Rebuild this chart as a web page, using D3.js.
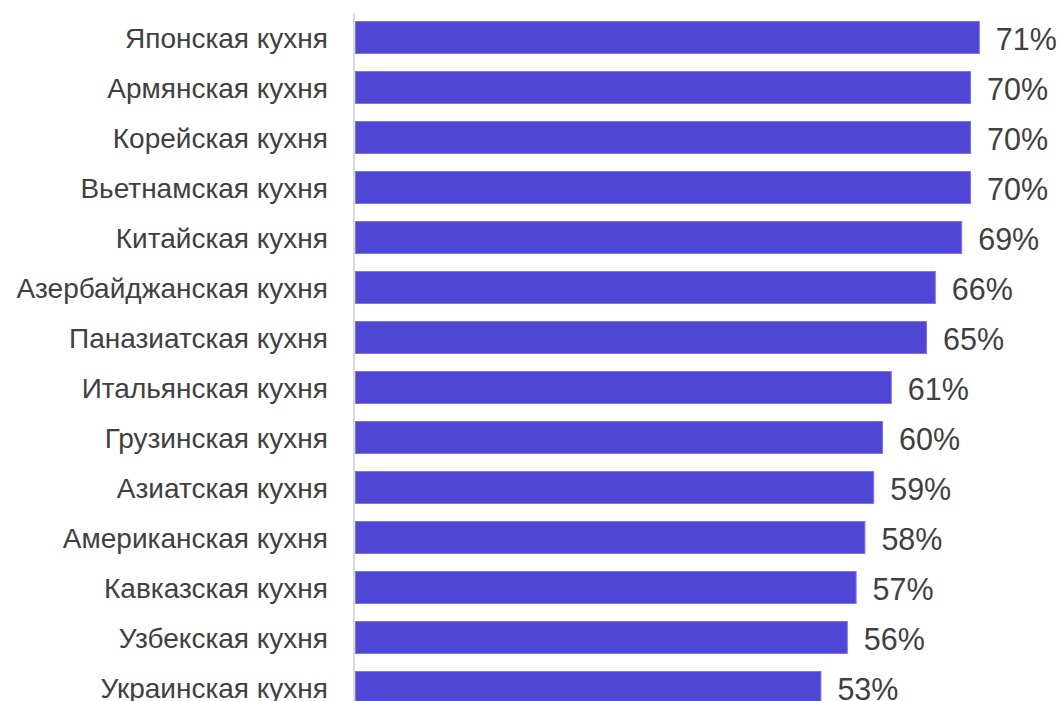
<!DOCTYPE html>
<html><head><meta charset="utf-8">
<script src="https://cdn.jsdelivr.net/npm/d3@7"></script>
<style>html,body{margin:0;padding:0;background:#fff;overflow:hidden}</style>
</head><body>
<svg id="c" width="1063" height="701"></svg>
<script>
const categories = ["Японская кухня","Армянская кухня","Корейская кухня","Вьетнамская кухня","Китайская кухня","Азербайджанская кухня","Паназиатская кухня","Итальянская кухня","Грузинская кухня","Азиатская кухня","Американская кухня","Кавказская кухня","Узбекская кухня","Украинская кухня"];
const values = [71,70,70,70,69,66,65,61,60,59,58,57,56,53];
const valueLabels = values.map(v => v + "%");

const svg = d3.select("#c");
const x = d3.scaleLinear().domain([0, 80]).range([355, 355 + 8.8 * 80]);
const y = d3.scaleBand().domain(categories).range([12.5, 712.5]).paddingInner(0.34).paddingOuter(0.17);

svg.append("line").attr("x1", 354).attr("x2", 354).attr("y1", 13).attr("y2", 701)
  .attr("stroke", "#d9d9d9").attr("stroke-width", 2);

svg.selectAll("rect.bar").data(values).join("rect").attr("class","bar")
  .attr("x", x(0)+0.5).attr("y", (d,i) => y(categories[i]) + 0.5)
  .attr("width", d => x(d) - x(0) - 1).attr("height", y.bandwidth() - 1)
  .attr("fill", "#4f46d5").attr("stroke", "#7d77e3").attr("stroke-width", 1);

svg.selectAll("text.cat").data(categories).join("text").attr("class","cat")
  .attr("x", 328).attr("y", d => y(d) + y.bandwidth()/2 + 10)
  .attr("text-anchor", "end").attr("font-family", "Liberation Sans, Arial, sans-serif")
  .attr("font-size", 28).attr("fill", "#404040").text(d => d);

svg.selectAll("text.val").data(values).join("text").attr("class","val")
  .attr("x", d => x(d) + 16).attr("y", (d,i) => y(categories[i]) + y.bandwidth()/2 + 12)
  .attr("font-family", "Liberation Sans, Arial, sans-serif")
  .attr("font-size", 30.5).attr("fill", "#404040").text((d,i) => valueLabels[i]);
</script>
</body></html>
